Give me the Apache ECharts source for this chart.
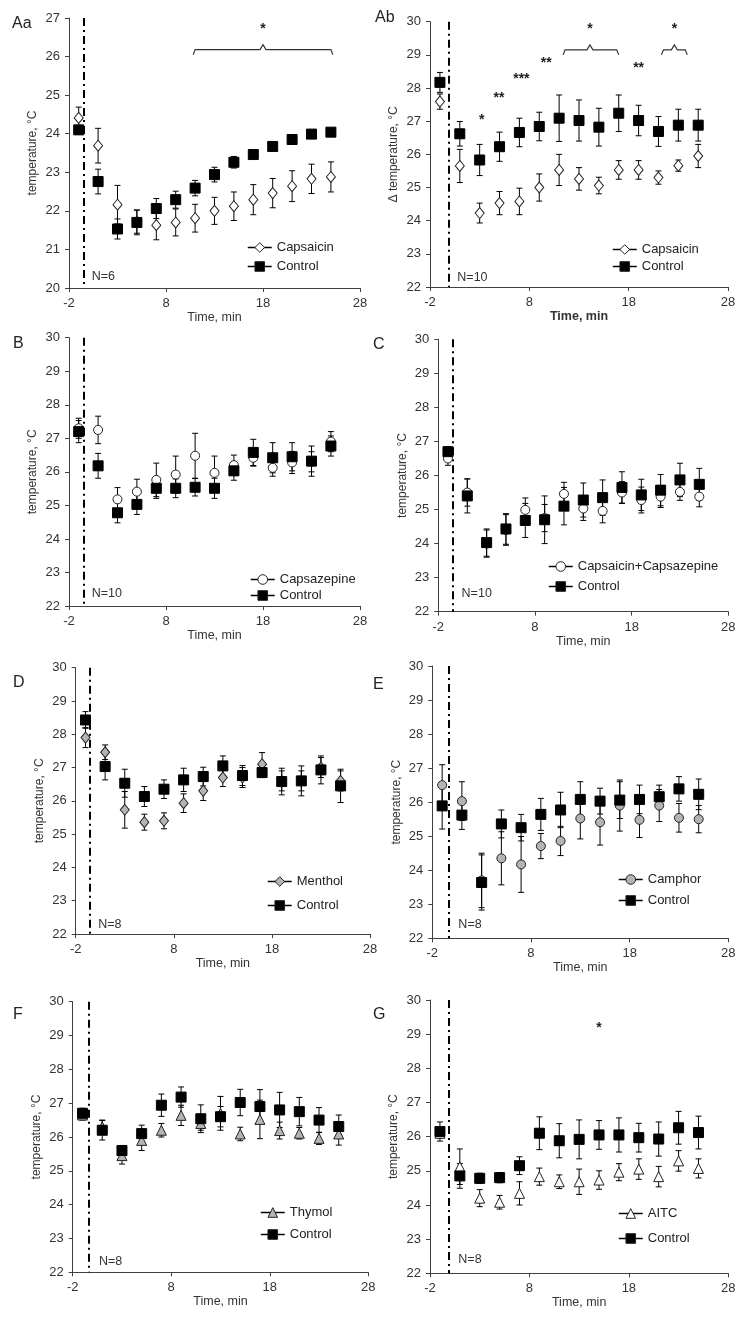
<!DOCTYPE html>
<html><head><meta charset="utf-8">
<script src="https://cdn.jsdelivr.net/npm/echarts@6/dist/echarts.min.js"></script>
<style>html,body{margin:0;padding:0;background:#fff}#c{width:746px;height:1318px}</style>
</head><body><div id="c"></div>
<script>
// ---------- DATA ----------
const times = [-1, 1, 3, 5, 7, 9, 11, 13, 15, 17, 19, 21, 23, 25];
const xTickLabels = [-2, 8, 18, 28];

const aaCapsaicin    = [24.41, 23.69, 22.16, 21.72, 21.63, 21.70, 21.81, 22.00, 22.12, 22.29, 22.46, 22.64, 22.83, 22.88];
const aaCapsaicinErr = [0.28, 0.45, 0.50, 0.30, 0.38, 0.35, 0.36, 0.35, 0.37, 0.39, 0.38, 0.40, 0.38, 0.39];
const aaControl      = [24.10, 22.76, 21.53, 21.70, 22.06, 22.29, 22.59, 22.94, 23.26, 23.46, 23.67, 23.85, 23.99, 24.04];
const aaControlErr   = [0.10, 0.32, 0.26, 0.32, 0.26, 0.22, 0.20, 0.19, 0.15, 0.10, 0.08, 0.08, 0.08, 0.08];

const abCapsaicin    = [27.59, 25.65, 24.23, 24.53, 24.58, 25.00, 25.53, 25.26, 25.06, 25.53, 25.53, 25.30, 25.66, 25.95];
const abCapsaicinErr = [0.23, 0.50, 0.30, 0.35, 0.40, 0.41, 0.47, 0.34, 0.25, 0.28, 0.28, 0.20, 0.17, 0.35];
const abControl      = [28.17, 26.62, 25.83, 26.23, 26.66, 26.84, 27.09, 27.02, 26.82, 27.24, 27.02, 26.69, 26.88, 26.88];
const abControlErr   = [0.30, 0.37, 0.47, 0.44, 0.43, 0.43, 0.70, 0.62, 0.57, 0.55, 0.46, 0.45, 0.48, 0.48];

const bCapsazepine    = [27.30, 27.25, 25.18, 25.41, 25.76, 25.92, 26.48, 25.97, 26.20, 26.42, 26.12, 26.28, 26.30, 26.90];
const bCapsazepineErr = [0.30, 0.41, 0.35, 0.37, 0.50, 0.55, 0.67, 0.50, 0.30, 0.25, 0.25, 0.33, 0.30, 0.30];
const bControl        = [27.20, 26.18, 24.78, 25.03, 25.51, 25.51, 25.54, 25.51, 26.03, 26.58, 26.42, 26.45, 26.32, 26.77];
const bControlErr     = [0.33, 0.37, 0.30, 0.30, 0.30, 0.28, 0.26, 0.30, 0.28, 0.39, 0.45, 0.42, 0.45, 0.30];

const cCapCpz     = [26.50, 25.50, 24.00, 24.40, 24.99, 24.75, 25.46, 25.03, 24.96, 25.50, 25.28, 25.38, 25.52, 25.38];
const cCapCpzErr  = [0.20, 0.40, 0.40, 0.45, 0.35, 0.40, 0.34, 0.35, 0.35, 0.32, 0.38, 0.32, 0.25, 0.30];
const cControl    = [26.70, 25.40, 24.03, 24.43, 24.68, 24.70, 25.10, 25.28, 25.35, 25.65, 25.43, 25.57, 25.87, 25.74];
const cControlErr = [0.15, 0.50, 0.40, 0.45, 0.50, 0.70, 0.55, 0.50, 0.52, 0.46, 0.46, 0.46, 0.49, 0.47];

const dMenthol    = [27.90, 27.46, 25.73, 25.36, 25.40, 25.93, 26.30, 26.70, 26.70, 27.10, 26.60, 26.60, 27.00, 26.60];
const dMentholErr = [0.30, 0.22, 0.55, 0.24, 0.24, 0.28, 0.29, 0.27, 0.30, 0.35, 0.30, 0.30, 0.30, 0.30];
const dControl    = [28.43, 27.03, 26.53, 26.13, 26.35, 26.63, 26.73, 27.05, 26.76, 26.85, 26.58, 26.60, 26.93, 26.45];
const dControlErr = [0.25, 0.40, 0.42, 0.30, 0.28, 0.35, 0.28, 0.30, 0.30, 0.15, 0.40, 0.45, 0.42, 0.50];

const eCamphor    = [26.50, 26.03, 23.70, 24.35, 24.17, 24.71, 24.86, 25.52, 25.41, 25.90, 25.48, 25.90, 25.54, 25.50];
const eCamphorErr = [0.60, 0.57, 0.80, 0.78, 0.82, 0.37, 0.43, 0.60, 0.67, 0.75, 0.52, 0.47, 0.42, 0.40];
const eControl    = [25.89, 25.62, 23.64, 25.36, 25.25, 25.64, 25.77, 26.08, 26.03, 26.06, 26.08, 26.16, 26.39, 26.23];
const eControlErr = [0.68, 0.42, 0.81, 0.41, 0.39, 0.47, 0.52, 0.52, 0.38, 0.54, 0.42, 0.34, 0.36, 0.45];

const fThymol     = [26.65, 26.30, 25.45, 25.90, 26.20, 26.64, 26.40, 26.70, 26.09, 26.52, 26.19, 26.11, 25.96, 26.09];
const fThymolErr  = [0.15, 0.20, 0.25, 0.30, 0.20, 0.30, 0.20, 0.50, 0.20, 0.57, 0.25, 0.17, 0.18, 0.33];
const fControl    = [26.70, 26.20, 25.60, 26.10, 26.94, 27.18, 26.54, 26.60, 27.02, 26.90, 26.80, 26.75, 26.50, 26.31];
const fControlErr = [0.15, 0.29, 0.15, 0.25, 0.33, 0.30, 0.41, 0.30, 0.39, 0.50, 0.52, 0.42, 0.37, 0.34];

const gAitc       = [26.10, 25.12, 24.20, 24.08, 24.34, 24.83, 24.68, 24.68, 24.73, 24.96, 25.05, 24.83, 25.29, 25.07];
const gAitcErr    = [0.15, 0.52, 0.25, 0.20, 0.34, 0.25, 0.20, 0.37, 0.27, 0.25, 0.30, 0.30, 0.30, 0.28];
const gControl    = [26.15, 24.85, 24.78, 24.80, 25.15, 26.10, 25.88, 25.92, 26.05, 26.05, 25.97, 25.93, 26.26, 26.12];
const gControlErr = [0.28, 0.36, 0.15, 0.15, 0.26, 0.48, 0.50, 0.57, 0.42, 0.50, 0.42, 0.50, 0.48, 0.48];

// annotations (data coordinates)
const aaStars    = [[18, 26.7]];          const aaStarText = ['*'];
const aaBrackets = [[10.8, 25.2, 26.18, 18]];
const abStars    = [[3.2, 27.02], [4.95, 27.69], [7.2, 28.27], [9.7, 28.74], [19.0, 28.6], [14.1, 29.77], [22.6, 29.77]];
const abStarText = ['*', '**', '***', '**', '**', '*', '*'];
const abBrackets = [[11.4, 17.0, 29.15, 14.1], [21.3, 23.9, 29.15, 22.6]];
const gStars     = [[15, 29.17]];         const gStarText = ['*'];
const nLabels    = ['N=6', 'N=10', 'N=10', 'N=10', 'N=8', 'N=8', 'N=8', 'N=8'];
const nLabelPos  = [[0.34, 20.3], [0.75, 22.27], [0.34, 22.38], [0.41, 22.54], [0.3, 22.27], [0.64, 22.39], [0.67, 22.32], [0.85, 22.39]];
const dashTimes  = [-0.42, -0.09, -0.42, -0.52, -0.54, -0.31, -0.31, -0.09];

// ---------- STYLE / LAYOUT ----------
const FF = '"Liberation Sans", Arial, sans-serif';
const AX = '#404040', TX = '#333';
const GRAY = '#b4b4b4';

const panels = [
  {label:'Aa', lx:12, ly:16, left:69, top:18, width:291, height:270, ymin:20, ymax:27, yName:'temperature, °C', nameGap:22, bold:false,
   tName:'Capsaicin', t:aaCapsaicin, te:aaCapsaicinErr, c:aaControl, ce:aaControlErr, sym:'diamond', symSize:[9,11], fill:'#fff',
   legL:247, legT:241, legGap:6, stars:aaStars, starText:aaStarText, brackets:aaBrackets},
  {label:'Ab', lx:375, ly:10, left:430, top:21.7, width:298, height:265.3, ymin:22, ymax:30, yName:'Δ temperature, °C', nameGap:22, bold:true,
   tName:'Capsaicin', t:abCapsaicin, te:abCapsaicinErr, c:abControl, ce:abControlErr, sym:'diamond', symSize:[9,11], fill:'#fff',
   legL:612, legT:243, legGap:4, stars:abStars, starText:abStarText, brackets:abBrackets},
  {label:'B', lx:13, ly:336, left:69, top:337.7, width:291, height:268.3, ymin:22, ymax:30, yName:'temperature, °C', nameGap:20, bold:false,
   tName:'Capsazepine', t:bCapsazepine, te:bCapsazepineErr, c:bControl, ce:bControlErr, sym:'circle', symSize:9, fill:'#fff',
   legL:250, legT:573, legGap:3, stars:[], starText:[], brackets:[]},
  {label:'C', lx:373, ly:337, left:438.3, top:339.3, width:290, height:272.4, ymin:22, ymax:30, yName:'temperature, °C', nameGap:18, bold:false,
   tName:'Capsaicin+Capsazepine', t:cCapCpz, te:cCapCpzErr, c:cControl, ce:cControlErr, sym:'circle', symSize:9, fill:'#fff',
   legL:548, legT:560, legGap:7, stars:[], starText:[], brackets:[]},
  {label:'D', lx:13, ly:675, left:75.7, top:667.7, width:294.3, height:266.3, ymin:22, ymax:30, yName:'temperature, °C', nameGap:20, bold:false,
   tName:'Menthol', t:dMenthol, te:dMentholErr, c:dControl, ce:dControlErr, sym:'diamond', symSize:[9,11], fill:GRAY,
   legL:267, legT:875, legGap:11, stars:[], starText:[], brackets:[]},
  {label:'E', lx:373, ly:677, left:432.3, top:666, width:296, height:272.3, ymin:22, ymax:30, yName:'temperature, °C', nameGap:20, bold:false,
   tName:'Camphor', t:eCamphor, te:eCamphorErr, c:eControl, ce:eControlErr, sym:'circle', symSize:9, fill:GRAY,
   legL:618, legT:873, legGap:8, stars:[], starText:[], brackets:[]},
  {label:'F', lx:13, ly:1007, left:72.7, top:1001.7, width:295.6, height:270.6, ymin:22, ymax:30, yName:'temperature, °C', nameGap:18, bold:false,
   tName:'Thymol', t:fThymol, te:fThymolErr, c:fControl, ce:fControlErr, sym:'triangle', symSize:10, fill:GRAY,
   legL:260, legT:1206, legGap:9, stars:[], starText:[], brackets:[]},
  {label:'G', lx:373, ly:1007, left:430, top:1000, width:298.3, height:273.3, ymin:22, ymax:30, yName:'temperature, °C', nameGap:18, bold:false,
   tName:'AITC', t:gAitc, te:gAitcErr, c:gControl, ce:gControlErr, sym:'triangle', symSize:10, fill:'#fff',
   legL:618, legT:1207, legGap:12, stars:gStars, starText:gStarText, brackets:[]}
];

function errRender(params, api) {
  const x = api.value(0), lo = api.value(1), hi = api.value(2);
  const p1 = api.coord([x, lo]), p2 = api.coord([x, hi]);
  const w = 3, st = {stroke:'#000', lineWidth:1};
  return {type:'group', children:[
    {type:'line', shape:{x1:p1[0], y1:p1[1], x2:p2[0], y2:p2[1]}, style:st},
    {type:'line', shape:{x1:p1[0]-w, y1:p1[1], x2:p1[0]+w, y2:p1[1]}, style:st},
    {type:'line', shape:{x1:p2[0]-w, y1:p2[1], x2:p2[0]+w, y2:p2[1]}, style:st}
  ]};
}
function dashRender(params, api) {
  const a = api.coord([api.value(0), api.value(1)]);
  const b = api.coord([api.value(0), api.value(2)]);
  const x = Math.round(a[0]);
  return {type:'line', shape:{x1:x, y1:b[1], x2:x, y2:a[1]},
    style:{stroke:'#000', lineWidth:2, lineDash:[8, 4, 2, 4]}};
}

const grids=[], xAxes=[], yAxes=[], series=[], legends=[], titles=[];
panels.forEach((p, i) => {
  grids.push({left:p.left, top:p.top, width:p.width, height:p.height});
  titles.push({text:p.label, left:p.lx, top:p.ly, padding:0,
    textStyle:{fontSize:16, fontWeight:'normal', color:'#222', fontFamily:FF}});
  xAxes.push({type:'value', gridIndex:i, min:-2, max:28,
    axisLine:{show:true, onZero:false, lineStyle:{color:AX, width:1}},
    axisTick:{show:true, length:4, customValues:xTickLabels, lineStyle:{color:AX}},
    axisLabel:{customValues:xTickLabels, margin:9, fontSize:13, color:TX, fontFamily:FF},
    splitLine:{show:false},
    name:'Time, min', nameLocation:'middle', nameGap:p.nameGap,
    nameTextStyle:{fontSize:12.5, color:TX, fontFamily:FF, fontWeight:p.bold?'bold':'normal'}});
  yAxes.push({type:'value', gridIndex:i, min:p.ymin, max:p.ymax, interval:1,
    axisLine:{show:true, onZero:false, lineStyle:{color:AX, width:1}},
    axisTick:{show:true, length:4, lineStyle:{color:AX}},
    axisLabel:{margin:9, fontSize:13, color:TX, fontFamily:FF},
    splitLine:{show:false},
    name:p.yName, nameLocation:'middle', nameGap:30,
    nameTextStyle:{fontSize:12, color:TX, fontFamily:FF}});

  const tErr = times.map((t, k) => [t, p.t[k]-p.te[k], p.t[k]+p.te[k]]);
  const cErr = times.map((t, k) => [t, p.c[k]-p.ce[k], p.c[k]+p.ce[k]]);
  series.push({type:'custom', xAxisIndex:i, yAxisIndex:i, renderItem:dashRender, data:[[dashTimes[i], p.ymin, p.ymax]], z:1, silent:true});
  series.push({type:'custom', xAxisIndex:i, yAxisIndex:i, renderItem:errRender, data:tErr, z:2, silent:true});
  series.push({type:'custom', xAxisIndex:i, yAxisIndex:i, renderItem:errRender, data:cErr, z:2, silent:true});
  series.push({type:'line', name:p.tName, xAxisIndex:i, yAxisIndex:i, z:3,
    data: times.map((t, k) => [t, p.t[k]]), symbol:p.sym, symbolSize:p.symSize, showSymbol:true,
    itemStyle:{color:p.fill, borderColor:'#222', borderWidth:1},
    lineStyle:{color:'#000', width:1.5, opacity:0}, animation:false, silent:true});
  series.push({type:'line', name:'Control', xAxisIndex:i, yAxisIndex:i, z:4,
    data: times.map((t, k) => [t, p.c[k]]), symbol:'rect', symbolSize:10, showSymbol:true,
    itemStyle:{color:'#000', borderColor:'#000', borderWidth:1},
    lineStyle:{color:'#000', width:1.5, opacity:0}, animation:false, silent:true});
  if (p.stars.length) {
    series.push({type:'custom', xAxisIndex:i, yAxisIndex:i, z:5, silent:true, data:p.stars,
      renderItem:(params, api) => {
        const c = api.coord([api.value(0), api.value(1)]);
        return {type:'text', x:c[0], y:c[1], style:{text:p.starText[params.dataIndex], fontSize:14,
          fontFamily:FF, fill:'#222', align:'center', verticalAlign:'middle', fontWeight:'bold'}};
      }});
  }
  if (p.brackets.length) {
    series.push({type:'custom', xAxisIndex:i, yAxisIndex:i, z:5, silent:true, data:p.brackets,
      renderItem:(params, api) => {
        const a = api.coord([api.value(0), api.value(2)]);
        const b = api.coord([api.value(1), api.value(2)]);
        const m = api.coord([api.value(3), api.value(2)]);
        const y = a[1], d = 5, r = 3, u = 5;
        return {type:'polyline', shape:{points:[[a[0], y+d], [a[0]+2, y], [m[0]-r, y], [m[0], y-u], [m[0]+r, y], [b[0]-2, y], [b[0], y+d]]},
          style:{stroke:'#333', lineWidth:1.2, fill:null}};
      }});
  }
  series.push({type:'custom', xAxisIndex:i, yAxisIndex:i, z:5, silent:true, data:[nLabelPos[i]],
    renderItem:(params, api) => {
      const c = api.coord([api.value(0), api.value(1)]);
      return {type:'text', x:c[0], y:c[1], style:{text:nLabels[i], fontSize:12.5, fontFamily:FF,
        fill:TX, align:'left', verticalAlign:'middle'}};
    }});
  legends.push({left:p.legL, top:p.legT, orient:'vertical', itemWidth:24, itemHeight:12, itemGap:p.legGap,
    selectedMode:false, data:[p.tName, 'Control'], padding:0,
    textStyle:{fontSize:13, color:'#222', fontFamily:FF},
    lineStyle:{color:'#000', width:1.5, opacity:1},
    itemStyle:{borderColor:'#222', borderWidth:1}});
});

const chart = echarts.init(document.getElementById('c'));
chart.setOption({animation:false, backgroundColor:'#fff', title:titles, grid:grids, xAxis:xAxes, yAxis:yAxes, legend:legends, series:series});
</script></body></html>
